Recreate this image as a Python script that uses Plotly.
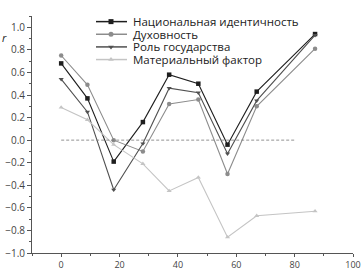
import plotly.graph_objects as go

x_vals = [0, 9, 18, 28, 37, 47, 57, 67, 87]
names = ["Национальная идентичность", "Духовность", "Роль государства", "Материальный фактор"]
nat = [0.68, 0.37, -0.19, 0.16, 0.58, 0.50, -0.04, 0.43, 0.94]
duh = [0.75, 0.49, 0.00, -0.10, 0.32, 0.36, -0.30, 0.30, 0.81]
rol = [0.54, 0.25, -0.44, -0.03, 0.46, 0.42, -0.12, 0.35, 0.93]
mat = [0.29, 0.18, -0.04, -0.21, -0.45, -0.33, -0.86, -0.67, -0.63]
series = [nat, duh, rol, mat]
colors = ["#1e1e1e", "#8c8c8c", "#505050", "#c4c4c4"]
symbols = ["square", "circle", "triangle-down", "triangle-up"]
y_ticks = [-1.0, -0.8, -0.6, -0.4, -0.2, 0.0, 0.2, 0.4, 0.6, 0.8, 1.0]
x_ticks = [0, 20, 40, 60, 80, 100]

fig = go.Figure()
for nm, ys, c, s in zip(names, series, colors, symbols):
    fig.add_trace(go.Scatter(x=x_vals, y=ys, mode="lines+markers", name=nm,
                             line=dict(color=c, width=1.1),
                             marker=dict(symbol=s, size=4.5, color=c),
                             showlegend=False))

# compact legend drawn on an overlay axis measured in figure pixels
leg_rows = [6, 19.5, 33, 46.5]
for nm, c, s, ry in zip(names, colors, symbols, leg_rows):
    fig.add_trace(go.Scatter(x=[96, 111, 127], y=[ry, ry, ry], mode="lines",
                             line=dict(color=c, width=1.5), xaxis="x2", yaxis="y2",
                             showlegend=False, hoverinfo="skip"))
    fig.add_trace(go.Scatter(x=[111], y=[ry], mode="markers",
                             marker=dict(symbol=s, size=5, color=c), xaxis="x2", yaxis="y2",
                             showlegend=False, hoverinfo="skip"))
    fig.add_annotation(x=131, y=ry, xref="x2", yref="y2", text=nm, showarrow=False,
                       xanchor="left", yanchor="middle",
                       font=dict(family="Open Sans", size=11.5, color="#222"))

fig.add_shape(type="line", x0=0, x1=80, y0=0, y1=0, xref="x", yref="y",
              line=dict(color="#777", width=0.8, dash="3px,2px"))

fig.add_annotation(x=-0.087, y=(253 - 37) / 253, xref="paper", yref="paper", text="<i>r</i>",
                   showarrow=False, xanchor="center", yanchor="middle",
                   font=dict(family="Open Sans", size=11, color="#222"))

fig.update_layout(
    width=361, height=269,
    margin=dict(l=32, r=8, t=0, b=16, pad=0),
    paper_bgcolor="white", plot_bgcolor="white",
    font=dict(family="Open Sans", size=10, color="#444"),
    xaxis=dict(range=[-10, 100], tickvals=x_ticks, showline=True, linecolor="#555",
               linewidth=1, ticks="outside", ticklen=3, tickcolor="#555", automargin=False,
               minor=dict(dtick=10, ticks="outside", ticklen=2, tickcolor="#555"),
               showgrid=False, zeroline=False, tickfont=dict(size=9)),
    yaxis=dict(range=[-1.0, 1.1], domain=[0, (253 - 16) / 253], tickvals=y_ticks,
               tickformat=".1f", showline=True, automargin=False,
               linecolor="#555", linewidth=1, ticks="outside", ticklen=4, tickcolor="#555",
               minor=dict(dtick=0.1, ticks="outside", ticklen=2, tickcolor="#555"),
               showgrid=False, zeroline=False, tickfont=dict(size=10)),
    xaxis2=dict(domain=[0, 1], range=[32, 353], visible=False, overlaying="x",
                anchor="y2", fixedrange=True, automargin=False),
    yaxis2=dict(domain=[0, 1], range=[253, 0], visible=False, overlaying="y",
                anchor="x2", fixedrange=True, automargin=False),
)

fig.write_html("out.html", config={"displayModeBar": False},
               post_script="document.body.style.margin='0px';")
